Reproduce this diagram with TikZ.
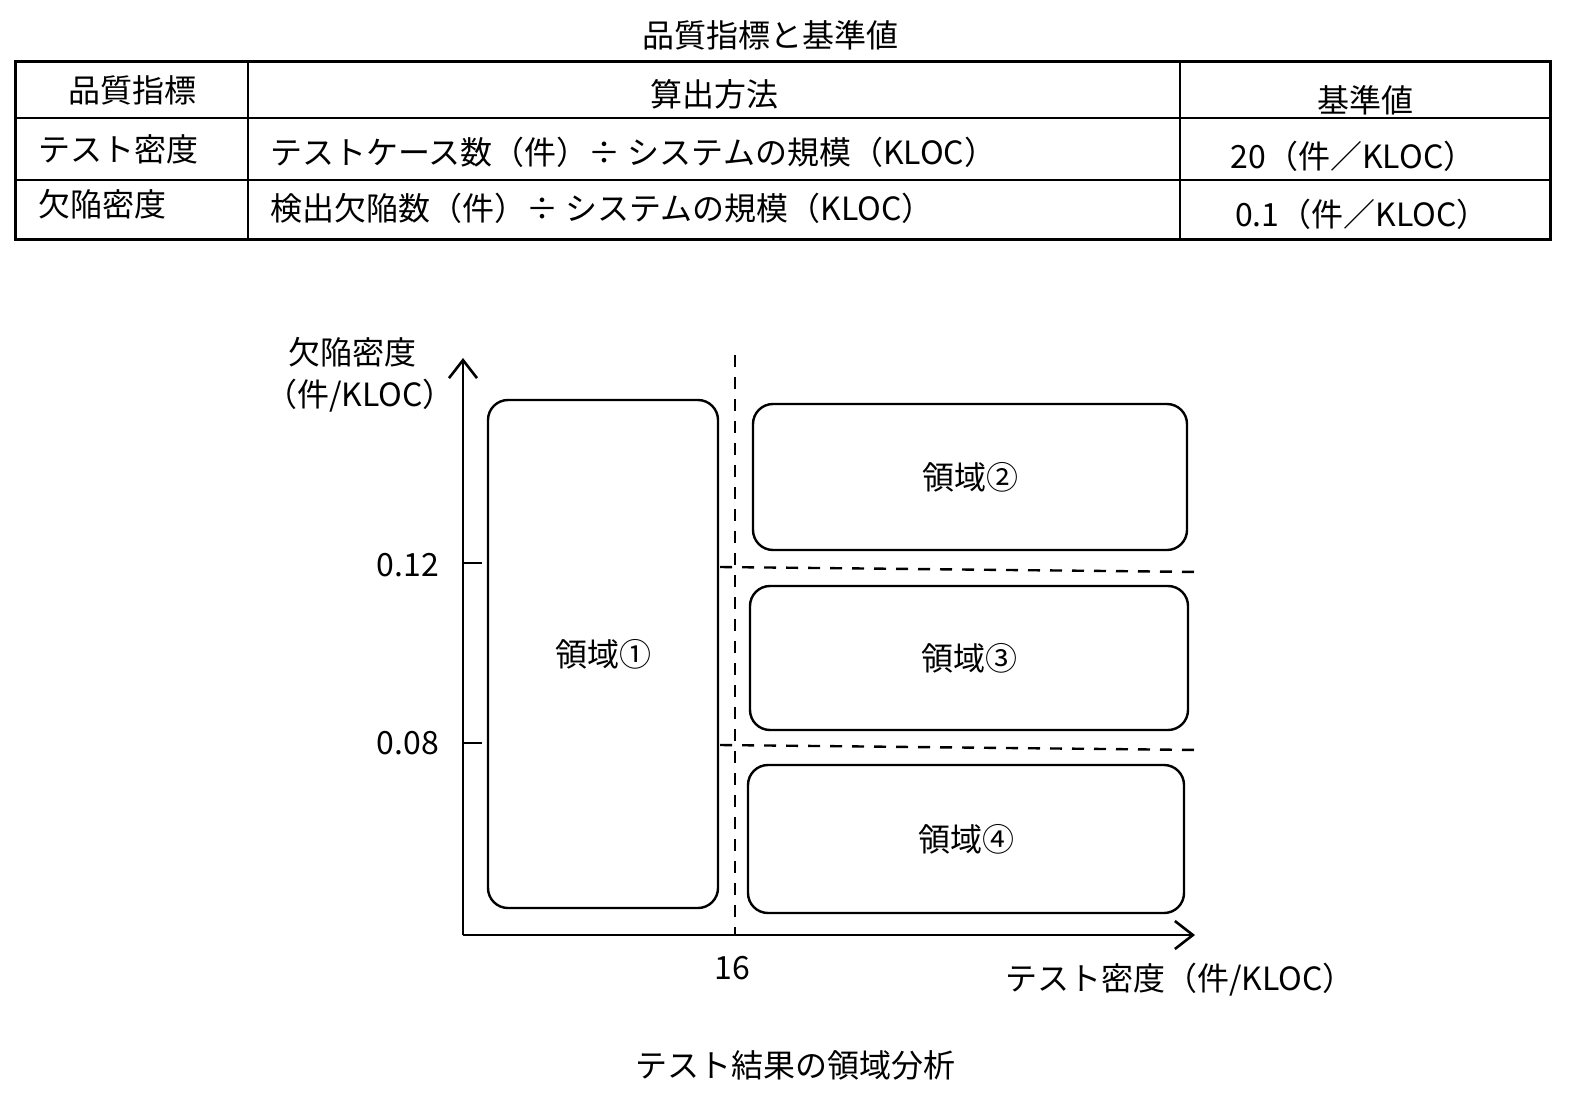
\documentclass[tikz,border=0pt]{standalone}
\usepackage{fontspec}
\setmainfont{Noto Sans CJK JP}
\usetikzlibrary{arrows.meta}
\begin{document}
\begin{tikzpicture}[x=0.5pt,y=-0.5pt,
  t/.style={font=\fontsize{16}{18}\selectfont,inner sep=0pt},
  box/.style={draw,line width=1.2pt,rounded corners=10pt},
  dashln/.style={line width=1.2pt,dash pattern=on 6pt off 5pt},
  ax/.style={line width=1.3pt}]
\useasboundingbox (0,0) rectangle (1582,1112);
\node[t] (title) at (770,35) {品質指標と基準値};
\draw[line width=1.5pt] (15,62) rectangle (1550,240);
\draw[line width=1.2pt] (15,118)--(1550,118) (15,180)--(1550,180) (248,62)--(248,240) (1180,62)--(1180,240);
\node[t] (h1) at (132,90) {品質指標};
\node[t] (h2) at (714,94) {算出方法};
\node[t] (h3) at (1365,100) {基準値};
\node[t,anchor=west] (a1) at (38,149) {テスト密度};
\node[t,anchor=west] (a2) at (270,152) {テストケース数（件）÷ システムの規模（KLOC）};
\node[t] (a3) at (1353,156) {20（件／KLOC）};
\node[t,anchor=west] (b1) at (38,204) {欠陥密度};
\node[t,anchor=west] (b2) at (270,208) {検出欠陥数（件）÷ システムの規模（KLOC）};
\node[t] (b3) at (1362,214) {0.1（件／KLOC）};
% chart
\coordinate (o) at (463,935);
\coordinate (yt) at (463,358);
\coordinate (xt) at (1195,935);
\draw[ax,-{Straight Barb[length=9pt,width=14pt]}] (o)--(yt);
\draw[ax,-{Straight Barb[length=9pt,width=14pt]}] (o)--(xt);
\coordinate (v1) at (735,355); \coordinate (v2) at (735,935);
\draw[dashln] (v1)--(v2);
\coordinate (h1a) at (720,567); \coordinate (h1b) at (1202,572);
\coordinate (h2a) at (720,745); \coordinate (h2b) at (1200,750);
\draw[dashln] (h1a)--(h1b); \draw[dashln] (h2a)--(h2b);
\draw[ax] (463,563)--(482,563) (463,743)--(482,743);
\node[t] (l12) at (408,565) {0.12};
\node[t] (l08) at (408,743) {0.08};
\node[t] (l16) at (732,968) {16};
\node[t] (yl1) at (352,352) {欠陥密度};
\node[t] (yl2) at (360,396) {（件/KLOC）};
\node[t] (xl) at (1180,980) {テスト密度（件/KLOC）};
\node[box,minimum width=115pt,minimum height=254pt] (r1) at (603,654) {};
\node[t] at (r1) {領域①};
\node[box,minimum width=217pt,minimum height=73pt] (r2) at (970,477) {};
\node[t] at (r2) {領域②};
\node[box,minimum width=219pt,minimum height=72pt] (r3) at (969,658) {};
\node[t] at (r3) {領域③};
\node[box,minimum width=218pt,minimum height=74pt] (r4) at (966,839) {};
\node[t] at (r4) {領域④};
\node[t] (cap) at (795,1065) {テスト結果の領域分析};
\end{tikzpicture}
\end{document}
